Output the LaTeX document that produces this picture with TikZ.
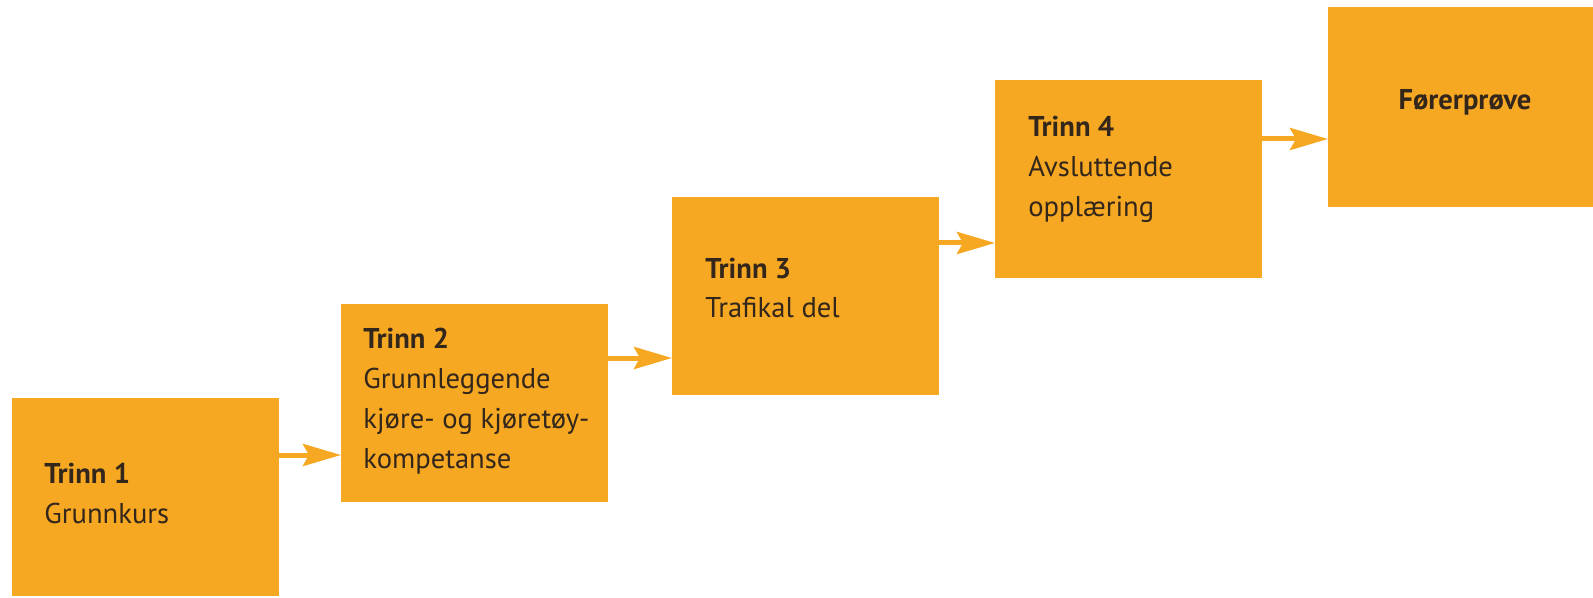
\documentclass[tikz,border=0pt]{standalone}
\usepackage{fontspec}
\setmainfont{PT Sans}
\usetikzlibrary{arrows.meta}
\definecolor{boxor}{HTML}{F7A823}
\definecolor{txt}{HTML}{33261B}
\begin{document}
\begin{tikzpicture}[x=0.5pt,y=-0.5pt,
  stepbox/.style={fill=boxor, draw=none, minimum width=133.5pt, minimum height=99pt, anchor=north west, inner sep=0pt, outer sep=0pt},
  lbl/.style={anchor=base west, align=left, text=txt, font=\fontsize{14.3}{20}\selectfont, inner sep=0pt},
  arr/.style={draw=boxor, line width=2.5pt, -{Stealth[length=19pt,width=11pt,inset=3pt]}}]
\useasboundingbox (0,0) rectangle (1593,598);
\clip (0,0) rectangle (1593,598);
\node[stepbox] (b1) at (12,398) {};
\node[stepbox] (b2) at (341,304) {};
\node[stepbox] (b3) at (672,197) {};
\node[stepbox] (b4) at (995,80) {};
\node[stepbox, minimum height=100pt] (b5) at (1328,7) {};
\node[lbl] (t1) at (44,523) {\textbf{Trinn 1}\\Grunnkurs};
\node[lbl] (t2) at (363,468) {\textbf{Trinn 2}\\Grunnleggende\\kjøre- og kjøretøy-\\kompetanse};
\node[lbl] (t3) at (705,318) {\textbf{Trinn 3}\\Trafikal del};
\node[lbl] (t4) at (1028,217) {\textbf{Trinn 4}\\Avsluttende\\opplæring};
\node[lbl, anchor=base] (t5) at (1465,110) {\textbf{Førerprøve}};
\draw[arr] ([yshift=-28.5pt]b1.north east) -- ([yshift=-28.5pt]b1.north east -| b2.west);
\draw[arr] ([yshift=-27pt]b2.north east) -- ([yshift=-27pt]b2.north east -| b3.west);
\draw[arr] ([yshift=-23pt]b3.north east) -- ([yshift=-23pt]b3.north east -| b4.west);
\draw[arr] ([yshift=-29.5pt]b4.north east) -- ([yshift=-29.5pt]b4.north east -| b5.west);
\end{tikzpicture}
\end{document}
